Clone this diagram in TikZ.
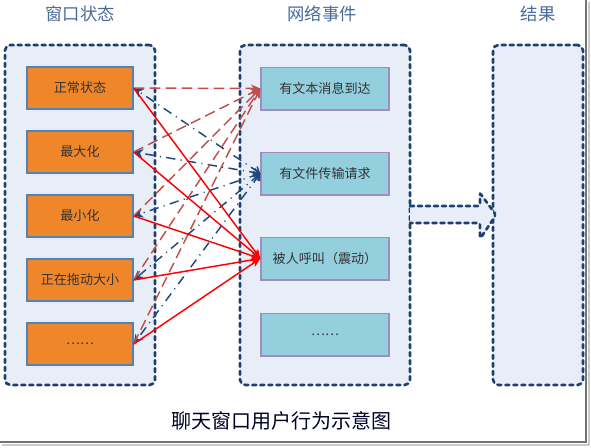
\documentclass[tikz,border=0pt]{standalone}
\usepackage{fontspec}
\setmainfont{Noto Sans CJK SC}
\usepackage{tikz}
\usetikzlibrary{arrows.meta,positioning}

\definecolor{groupfill}{HTML}{E8EEF8}
\definecolor{groupline}{HTML}{1F3F6F}
\definecolor{titleblue}{HTML}{4A6A9A}
\definecolor{stateorange}{HTML}{F0862A}
\definecolor{stateline}{HTML}{4F81BD}
\definecolor{eventcyan}{HTML}{94CFDD}
\definecolor{eventline}{HTML}{A08CBF}
\definecolor{msgbrown}{HTML}{C0504D}
\definecolor{filenavy}{HTML}{1F497D}

\begin{document}
\begin{tikzpicture}[x=0.75pt, y=-0.75pt,
  title/.style={font=\fontsize{13}{15}\selectfont, text=titleblue},
  group/.style={draw=groupline, fill=groupfill, line width=2pt, line cap=round,
  dash pattern=on 3pt off 3pt, rounded corners=4pt, minimum height=255pt},
  state/.style={draw=stateline, fill=stateorange, line width=1pt,
  minimum width=79.5pt, minimum height=31.5pt, font=\fontsize{9.8}{11}\selectfont, text=black!80},
  event/.style={draw=eventline, fill=eventcyan, line width=1pt,
  minimum width=96pt, minimum height=32pt, font=\fontsize{9.8}{11}\selectfont, text=black!80},
  callarrow/.style={-{Stealth[length=7pt, width=6pt]}, red, line width=1.1pt},
  msgarrow/.style={-{Stealth[length=7pt, width=6pt]}, msgbrown, line width=1.1pt,
  dash pattern=on 8pt off 4pt},
  filearrow/.style={{Straight Barb[length=4pt, width=6pt]}-{Stealth[length=7pt, width=7pt]},
  filenavy, line width=1.1pt, dash pattern=on 7pt off 4pt on 0.8pt off 4pt}]
\useasboundingbox (0,0) rectangle (591,447);
% page frame with shadow
\draw[black!55, line width=1.2pt] (586,0) -- (586,442) -- (0,442);
\draw[black!20, line width=1.5pt] (589,2) -- (589,445) -- (2,445);

% titles
\node[title] (ttlstate) at (80,14) {窗口状态};
\node[title] (ttlevent) at (322,14) {网络事件};
\node[title] (ttlresult) at (538,14) {结果};

% groups
\node[group, minimum width=112.5pt] (gstate) at (80,215) {};
\node[group, minimum width=127.5pt] (gevent) at (325,215) {};
\node[group, minimum width=67.5pt] (gresult) at (538,215) {};

% big arrow between events and result
\draw[groupline, fill=groupfill, line width=2pt, line cap=round,
  dash pattern=on 3pt off 3pt, rounded corners=1.5pt]
  (410,206) -- (480,206) -- (480,193) -- (496,215) -- (480,239) -- (480,223)
  -- (410,223);

% window states
\node[state] (normal) at (80,88) {正常状态};
\node[state, below=15.5pt of normal] (maxim) {最大化};
\node[state, below=15.5pt of maxim] (minim) {最小化};
\node[state, below=15.5pt of minim] (resize) {正在拖动大小};
\node[state, below=15.5pt of resize] (moreS) {……};

% network events
\node[event] (textmsg) at (325,88.5) {有文本消息到达};
\node[event] (filereq) at (325,173.5) {有文件传输请求};
\node[event] (called) at (325,258.5) {被人呼叫（震动）};
\node[event] (moreE) at (325,334.5) {……};

% connectors
\foreach \s in {normal,maxim,minim,resize,moreS}{
  \draw[filearrow] (filereq.west) -- (\s.east);
  \draw[msgarrow] (\s.east) -- (textmsg.west);
}
\foreach \s in {normal,maxim,minim,resize,moreS}
  \draw[callarrow] (\s.east) -- (called.west);

% caption
\node[font=\fontsize{15}{17}\selectfont, text=black!75!blue!60!black] (caption) at (281,421) {聊天窗口用户行为示意图};
\end{tikzpicture}
\end{document}
